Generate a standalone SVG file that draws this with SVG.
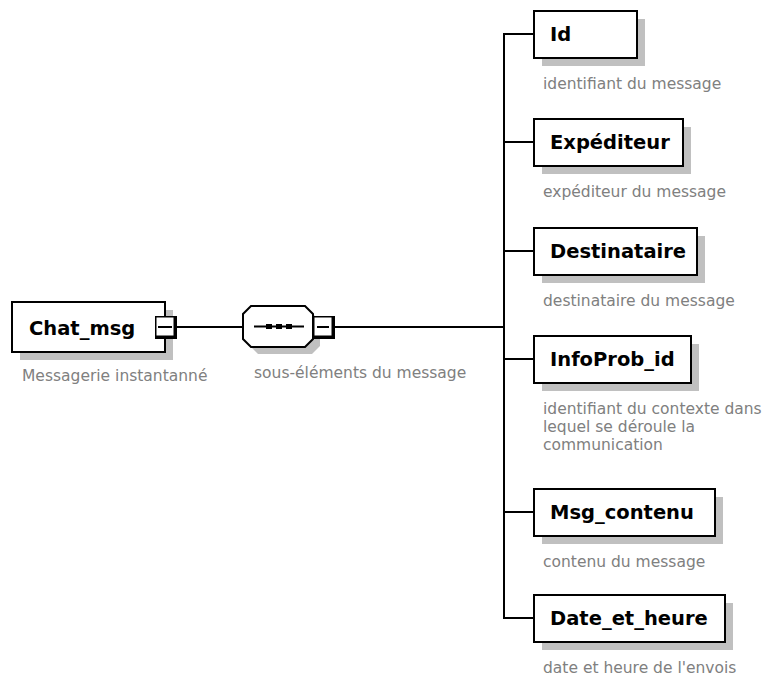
<svg xmlns="http://www.w3.org/2000/svg" width="768" height="679" viewBox="0 0 768 679">
<style>
.bg{fill:#ffffff}
.box{fill:#ffffff;stroke:#000000;stroke-width:2}
.sh{fill:#c0c0c0;stroke:none}
.lbl{font-family:"DejaVu Sans",Verdana,sans-serif;font-weight:bold;font-size:19.5px;fill:#000000}
.desc{font-family:"DejaVu Sans",Verdana,sans-serif;font-size:15.5px;fill:#808080}
.ln{stroke:#000000;stroke-width:2;fill:none}
</style>
<rect class="bg" x="0" y="0" width="768" height="679"/>
<g id="connectors">
<line class="ln" x1="177" y1="327" x2="243" y2="327"/>
<line class="ln" x1="335" y1="327" x2="504" y2="327"/>
<line class="ln" x1="504" y1="33" x2="504" y2="619"/>
<line class="ln" x1="503" y1="34" x2="534" y2="34"/>
<line class="ln" x1="503" y1="142" x2="534" y2="142"/>
<line class="ln" x1="503" y1="251" x2="534" y2="251"/>
<line class="ln" x1="503" y1="359" x2="534" y2="359"/>
<line class="ln" x1="503" y1="512" x2="534" y2="512"/>
<line class="ln" x1="503" y1="618" x2="534" y2="618"/>
</g>
<g id="chat_msg">
<rect class="sh" x="20" y="310" width="153" height="50"/>
<rect class="box" x="12" y="302" width="153" height="50"/>
<text class="lbl" x="29" y="335">Chat_msg</text>
<rect x="155" y="316" width="22" height="23" fill="#000"/>
<rect x="156.5" y="317.5" width="17" height="18" fill="#fff"/>
<line x1="158" y1="327" x2="172" y2="327" stroke="#000" stroke-width="2"/>
<text class="desc" x="22" y="381">Messagerie instantanné</text>
</g>
<g id="sequence">
<polygon class="sh" points="258,313 312,313 320,321 320,346 312,354 258,354 250,346 250,321"/>
<polygon class="box" points="251,306 305,306 313,314 313,339 305,347 251,347 243,339 243,314"/>
<line x1="254" y1="326.5" x2="304" y2="326.5" stroke="#000" stroke-width="2"/>
<rect x="266" y="324" width="6" height="5" fill="#000"/>
<rect x="276" y="324" width="6" height="5" fill="#000"/>
<rect x="286" y="324" width="6" height="5" fill="#000"/>
<rect x="313" y="316" width="22" height="23" fill="#000"/>
<rect x="314.5" y="317.5" width="17" height="18" fill="#fff"/>
<line x1="317" y1="327" x2="329" y2="327" stroke="#000" stroke-width="2"/>
<text class="desc" x="254" y="378">sous-éléments du message</text>
</g>
<g id="id">
<rect class="sh" x="542" y="19" width="103" height="47"/>
<rect class="box" x="534" y="11" width="103" height="47"/>
<text class="lbl" x="550" y="41">Id</text>
<text class="desc" x="543" y="89">identifiant du message</text>
</g>
<g id="expediteur">
<rect class="sh" x="542" y="127" width="149" height="47"/>
<rect class="box" x="534" y="119" width="149" height="47"/>
<text class="lbl" x="550" y="149">Expéditeur</text>
<text class="desc" x="543" y="197">expéditeur du message</text>
</g>
<g id="destinataire">
<rect class="sh" x="542" y="236" width="163" height="47"/>
<rect class="box" x="534" y="228" width="163" height="47"/>
<text class="lbl" x="550" y="258">Destinataire</text>
<text class="desc" x="543" y="306">destinataire du message</text>
</g>
<g id="infoprob_id">
<rect class="sh" x="542" y="344" width="157" height="47"/>
<rect class="box" x="534" y="336" width="157" height="47"/>
<text class="lbl" x="550" y="366">InfoProb_id</text>
<text class="desc" x="543" y="414">identifiant du contexte dans</text>
<text class="desc" x="543" y="432">lequel se déroule la</text>
<text class="desc" x="543" y="450">communication</text>
</g>
<g id="msg_contenu">
<rect class="sh" x="542" y="497" width="181" height="47"/>
<rect class="box" x="534" y="489" width="181" height="47"/>
<text class="lbl" x="550" y="519">Msg_contenu</text>
<text class="desc" x="543" y="567">contenu du message</text>
</g>
<g id="date_et_heure">
<rect class="sh" x="542" y="603" width="191" height="47"/>
<rect class="box" x="534" y="595" width="191" height="47"/>
<text class="lbl" x="550" y="625">Date_et_heure</text>
<text class="desc" x="543" y="673">date et heure de l'envois</text>
</g>
</svg>
